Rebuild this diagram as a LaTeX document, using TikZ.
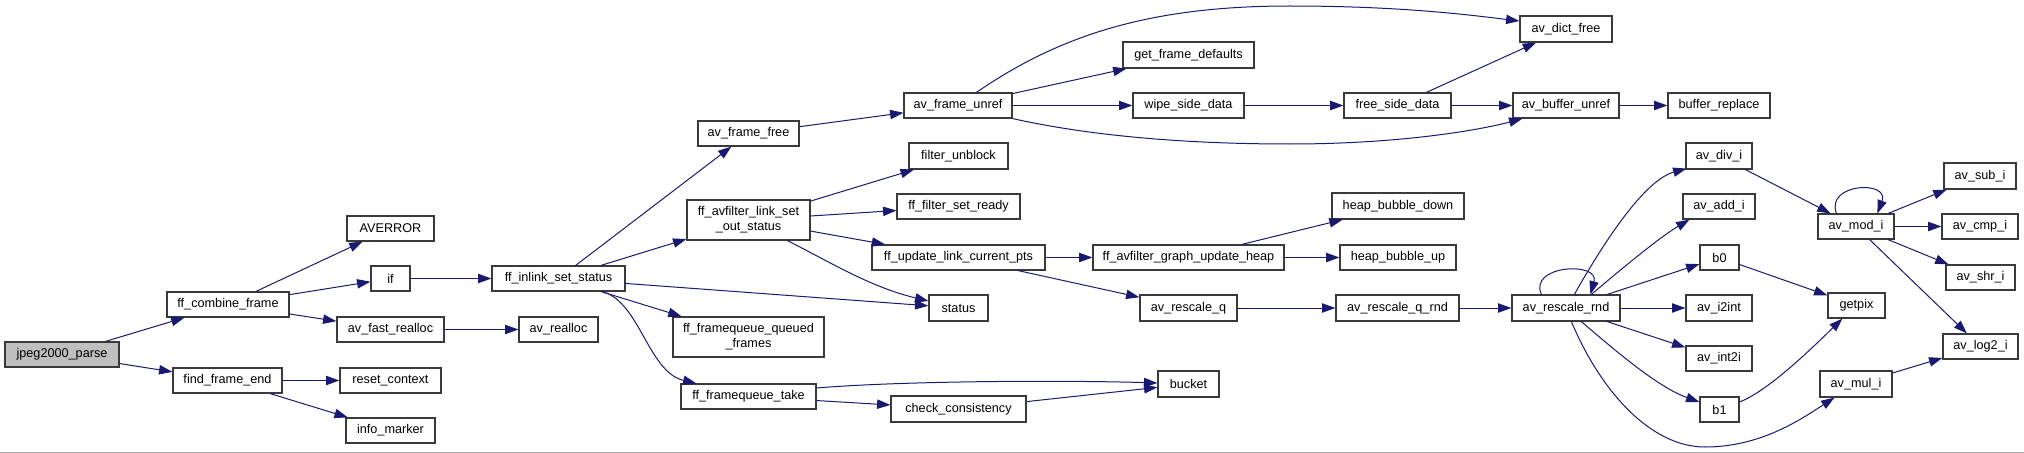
\documentclass[tikz,border=0pt]{standalone}
\usepackage{fontspec}
\setmainfont{Liberation Sans}
\usetikzlibrary{arrows.meta,calc}
\definecolor{edgec}{HTML}{191970}
\definecolor{boxc}{HTML}{3A3A3A}
\definecolor{rootc}{HTML}{BFBFBF}
\begin{document}
\begin{tikzpicture}[x=0.75pt,y=-0.75pt,
  fn/.style={draw=boxc, line width=0.9pt, fill=white, inner sep=0pt, font=\fontsize{9.5}{11.25}\selectfont, align=center},
  root/.style={fn, fill=rootc},
  sz/.style 2 args={minimum width=#1*0.75pt, minimum height=#2*0.75pt},
  call/.style={draw=edgec, line width=0.75pt, -{Triangle[length=10pt,width=7pt]}},
  rulerline/.style={draw=black!35, line width=0.75pt}]
\useasboundingbox (0,0) rectangle (2024,453);
\path[rulerline] (0,452) -- (2024,452);
% nodes
\node[root, sz={114}{25}] (jp) at (62,354.5) {jpeg2000\_parse};
\node[fn, sz={122}{25}] (cf) at (228,304.5) {ff\_combine\_frame};
\node[fn, sz={109}{25}] (ffe) at (227.5,380.5) {find\_frame\_end};
\node[fn, sz={87}{25}] (averror) at (390.5,228.5) {AVERROR};
\node[fn, sz={39}{25}] (if) at (390.5,278.5) {if};
\node[fn, sz={107}{25}] (afr) at (390.5,329.5) {av\_fast\_realloc};
\node[fn, sz={101}{25}] (rc) at (390.5,380.5) {reset\_context};
\node[fn, sz={89}{25}] (im) at (390.5,430.5) {info\_marker};
\node[fn, sz={133}{25}] (iss) at (558.5,278.5) {ff\_inlink\_set\_status};
\node[fn, sz={79}{25}] (ar) at (558.5,329.5) {av\_realloc};
\node[fn, sz={101}{25}] (aff) at (748.5,133.5) {av\_frame\_free};
\node[fn, sz={123}{40}] (loss) at (748.5,220) {ff\_avfilter\_link\_set\\\_out\_status};
\node[fn, sz={151}{40}] (fqq) at (748.5,337) {ff\_framequeue\_queued\\\_frames};
\node[fn, sz={135}{25}] (fqt) at (748.5,396.5) {ff\_framequeue\_take};
\node[fn, sz={108}{25}] (afu) at (958,105.5) {av\_frame\_unref};
\node[fn, sz={99}{26}] (fu) at (958.5,156) {filter\_unblock};
\node[fn, sz={123}{25}] (fsr) at (958.5,206.5) {ff\_filter\_set\_ready};
\node[fn, sz={173}{25}] (ulcp) at (958.5,257.5) {ff\_update\_link\_current\_pts};
\node[fn, sz={59}{26}] (status) at (958.5,308) {status};
\node[fn, sz={135}{26}] (cc) at (958.5,409) {check\_consistency};
\node[fn, sz={131}{26}] (gfd) at (1188.5,55) {get\_frame\_defaults};
\node[fn, sz={111}{25}] (wsd) at (1188.5,105.5) {wipe\_side\_data};
\node[fn, sz={191}{25}] (ugh) at (1188.5,257.5) {ff\_avfilter\_graph\_update\_heap};
\node[fn, sz={97}{26}] (arq) at (1188.5,308) {av\_rescale\_q};
\node[fn, sz={61}{26}] (bucket) at (1188.5,384) {bucket};
\node[fn, sz={107}{25}] (fsd) at (1397.5,105.5) {free\_side\_data};
\node[fn, sz={132}{26}] (hbd) at (1398,206) {heap\_bubble\_down};
\node[fn, sz={116}{25}] (hbu) at (1398,257.5) {heap\_bubble\_up};
\node[fn, sz={123}{26}] (arqr) at (1397.5,308) {av\_rescale\_q\_rnd};
\node[fn, sz={92}{26}] (adf) at (1566,29) {av\_dict\_free};
\node[fn, sz={106}{25}] (abu) at (1566,105.5) {av\_buffer\_unref};
\node[fn, sz={108}{26}] (arr) at (1566,308) {av\_rescale\_rnd};
\node[fn, sz={102}{25}] (br) at (1719,105.5) {buffer\_replace};
\node[fn, sz={66}{26}] (div) at (1719,156) {av\_div\_i};
\node[fn, sz={72}{25}] (add) at (1719,206.5) {av\_add\_i};
\node[fn, sz={39}{25}] (b0) at (1719.5,257.5) {b0};
\node[fn, sz={66}{26}] (i2int) at (1719,308) {av\_i2int};
\node[fn, sz={66}{25}] (int2i) at (1719,358.5) {av\_int2i};
\node[fn, sz={39}{25}] (b1) at (1719.5,409.5) {b1};
\node[fn, sz={76}{25}] (mod) at (1856,226.5) {av\_mod\_i};
\node[fn, sz={57}{25}] (getpix) at (1856.5,305.5) {getpix};
\node[fn, sz={72}{26}] (mul) at (1856,384) {av\_mul\_i};
\node[fn, sz={72}{26}] (sub) at (1980,176) {av\_sub\_i};
\node[fn, sz={76}{25}] (cmp) at (1980,226.5) {av\_cmp\_i};
\node[fn, sz={69}{25}] (shr) at (1980.5,277.5) {av\_shr\_i};
\node[fn, sz={75}{25}] (log2) at (1980.5,346.5) {av\_log2\_i};
% edges
\draw[call] (jp) -- (cf);
\draw[call] (jp) -- (ffe);
\draw[call] (cf) -- (averror);
\draw[call] (cf) -- (if);
\draw[call] (cf) -- (afr);
\draw[call] (if) -- (iss);
\draw[call] (afr) -- (ar);
\draw[call] (ffe) -- (rc);
\draw[call] (ffe) -- (im);
\draw[call] (iss) -- (aff);
\draw[call] (iss) -- (loss);
\draw[call] (iss) -- (status);
\draw[call] (iss) -- (fqq);
\draw[call] ($(iss.south west)+(111,0)$) .. controls (640,302) and (648,372) .. ($(fqt.north west)+(16,0)$);
\draw[call] (aff) -- (afu);
\draw[call] ($(afu.north west)+(73,0)$) .. controls (1060,35) and (1150,6) .. (1290,6) .. controls (1400,6) and (1470,15) .. ($(adf.west)+(0,-8)$);
\draw[call] (afu) -- (gfd);
\draw[call] (afu) -- (wsd);
\draw[call] (afu.south east) .. controls (1100,138) and (1200,144) .. (1290,144) .. controls (1400,144) and (1480,130) .. ($(abu.south west)+(10,0)$);
\draw[call] (wsd) -- (fsd);
\draw[call] (fsd) -- (adf);
\draw[call] (fsd) -- (abu);
\draw[call] (abu) -- (br);
\draw[call] (loss) -- (fu);
\draw[call] (loss) -- (fsr);
\draw[call] (loss) -- (ulcp);
\draw[call] ($(loss.south west)+(101,0)$) .. controls (830,262) and (870,287) .. ($(status.west)+(0,-7)$);
\draw[call] (ulcp) -- (ugh);
\draw[call] (ulcp) -- (arq);
\draw[call] (ugh) -- (hbd);
\draw[call] (ugh) -- (hbu);
\draw[call] (arq) -- (arqr);
\draw[call] (arqr) -- (arr);
\draw[call] ($(fqt.east)+(0,-8.5)$) .. controls (900,381) and (1060,380) .. ($(bucket.west)+(0,-1)$);
\draw[call] (fqt) -- (cc);
\draw[call] (cc) -- (bucket);
\draw[call] ($(arr.north west)+(30,0)$) .. controls (1528,265) and (1600,261) .. ($(arr.north west)+(79,0)$);
\draw[call] ($(arr.north west)+(63,0)$) .. controls (1605,240) and (1645,180) .. ($(div.south west)+(1,-1)$);
\draw[call] ($(arr.north west)+(80,0)$) .. controls (1620,270) and (1660,237) .. ($(add.south west)+(7,0)$);
\draw[call] (arr) -- (b0);
\draw[call] (arr) -- (i2int);
\draw[call] (arr) -- (int2i);
\draw[call] ($(arr.south west)+(70,0)$) .. controls (1620,355) and (1660,388) .. ($(b1.west)+(0,-7.5)$);
\draw[call] ($(arr.south west)+(60,0)$) .. controls (1600,390) and (1650,447) .. (1705,447) .. controls (1760,447) and (1800,420) .. ($(mul.south west)+(15,0)$);
\draw[call] (div) -- (mod);
\draw[call] ($(mod.north west)+(19,0)$) .. controls (1825,183) and (1890,180) .. ($(mod.north west)+(60,0)$);
\draw[call] (mod) -- (sub);
\draw[call] (mod) -- (cmp);
\draw[call] (mod) -- (shr);
\draw[call] (mod) -- (log2);
\draw[call] (b0) -- (getpix);
\draw[call] ($(b1.east)+(0,-7.5)$) .. controls (1770,390) and (1815,345) .. ($(getpix.south west)+(15,0)$);
\draw[call] (mul) -- (log2);
\end{tikzpicture}
\end{document}
